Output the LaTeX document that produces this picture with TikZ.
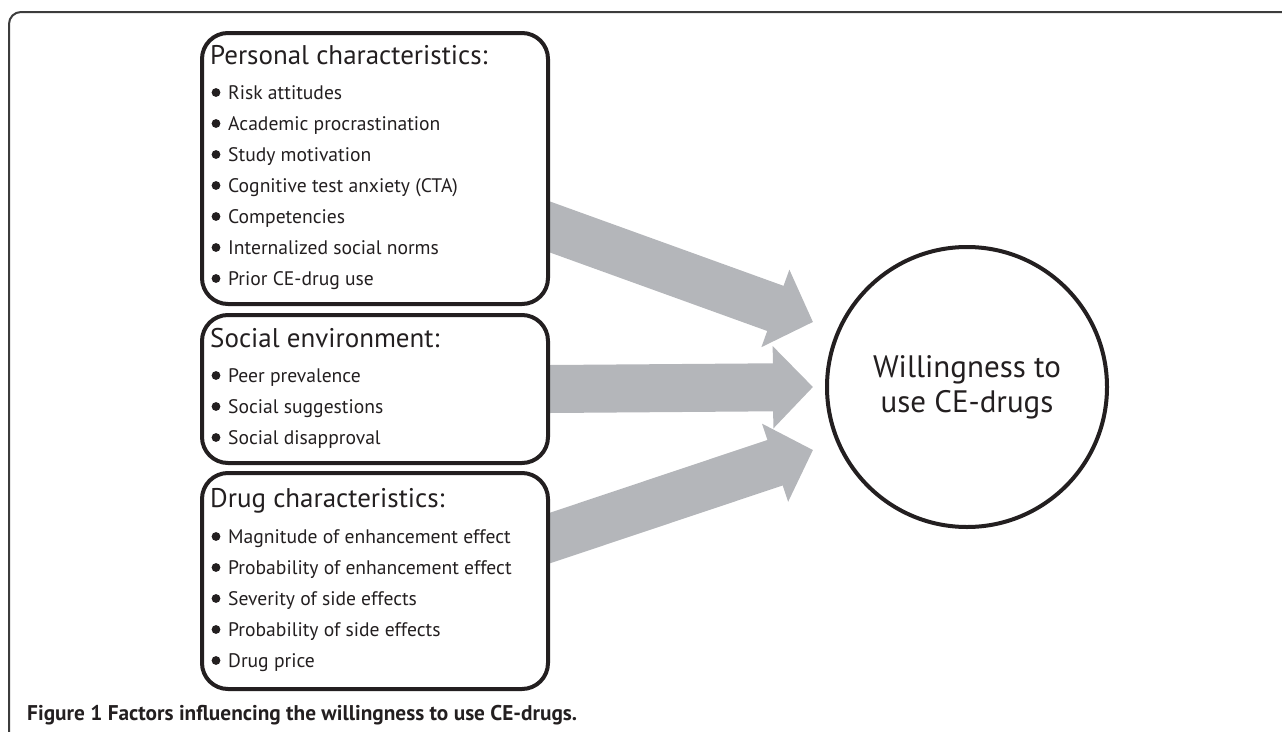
\documentclass[tikz,border=0pt]{standalone}
\usepackage{fontspec}
\setmainfont{PT Sans}
\usetikzlibrary{arrows.meta,calc}
\pgfdeclarelayer{bg}\pgfsetlayers{bg,main}
\definecolor{ink}{RGB}{35,31,32}
\definecolor{agray}{RGB}{180,182,186}
\definecolor{framec}{RGB}{60,60,60}
\tikzset{
  box/.style={draw=ink, line width=4pt, rounded corners=26pt, fill=white, anchor=north west, inner sep=0pt, minimum width=346pt},
  head/.style={anchor=base west, inner sep=0pt, font=\fontsize{27}{30}\selectfont, text=ink},
  item/.style={anchor=base west, inner sep=0pt, font=\fontsize{19.6}{22}\selectfont, text=ink},
  bullet/.style={fill=ink},
  bigarrow/.style={draw=agray, line width=48pt, -{Triangle[width=80pt,length=40pt]}, shorten <=-30pt},
  target/.style={circle, draw=ink, line width=4pt, fill=white, minimum size=280pt, inner sep=0pt, align=center, text=ink, font=\fontsize{31}{35}\selectfont},
  frameline/.style={draw=framec, line width=2pt, rounded corners=12pt},
  caption/.style={anchor=base west, inner sep=0pt, text=ink, font=\bfseries\fontsize{21.3}{24}\selectfont}
}
\begin{document}
\begin{tikzpicture}[x=1pt,y=-1pt]
\useasboundingbox (0,0) rectangle (1282,731);
\draw[frameline] (9,740) -- (9,12) -- (1290,12);

% boxes
\node[box, minimum height=271pt] (b1) at (200,31) {};
\node[box, minimum height=148pt] (b2) at (200,313) {};
\node[box, minimum height=216pt] (b3) at (200,471) {};

% headers
\node[head] (h1) at (210,64) {Personal characteristics:};
\node[head] (h2) at (210,347) {Social environment:};
\node[head] (h3) at (210,507) {Drug characteristics:};

% items
\foreach [count=\i] \t in {{Risk attitudes},{Academic procrastination},{Study motivation},{Cognitive test anxiety (CTA)},{Competencies},{Internalized social norms},{Prior CE-drug use}} {
  \node[item] (p\i) at (228,{99+31*(\i-1)}) {\t};
  \fill[bullet] ($(p\i.base west)+(-12,-6.5)$) circle (4.4pt);
}
\foreach [count=\i] \t in {{Peer prevalence},{Social suggestions},{Social disapproval}} {
  \node[item] (s\i) at (228,{382+31*(\i-1)}) {\t};
  \fill[bullet] ($(s\i.base west)+(-12,-6.5)$) circle (4.4pt);
}
\foreach [count=\i] \t in {{Magnitude of enhancement effect},{Probability of enhancement effect},{Severity of side effects},{Probability of side effects},{Drug price}} {
  \node[item] (d\i) at (228,{543+31*(\i-1)}) {\t};
  \fill[bullet] ($(d\i.base west)+(-12,-6.5)$) circle (4.4pt);
}

% target circle
\node[target] (c) at (967,387) {Willingness to\\use CE-drugs};
\coordinate (t1) at ($(c)+(-154,-65)$);
\coordinate (t2) at ($(c)+(-154,0)$);
\coordinate (t3) at ($(c)+(-154,63)$);

\begin{pgfonlayer}{bg}
\draw[bigarrow] ($(b1.east)+(0,58.5)$) -- (t1);
\draw[bigarrow] (b2.east) -- (t2);
\draw[bigarrow] ($(b3.east)+(0,-43)$) -- (t3);
\end{pgfonlayer}

\node[caption] (cap) at (27,720) {Figure 1 Factors influencing the willingness to use CE-drugs.};
\end{tikzpicture}
\end{document}
